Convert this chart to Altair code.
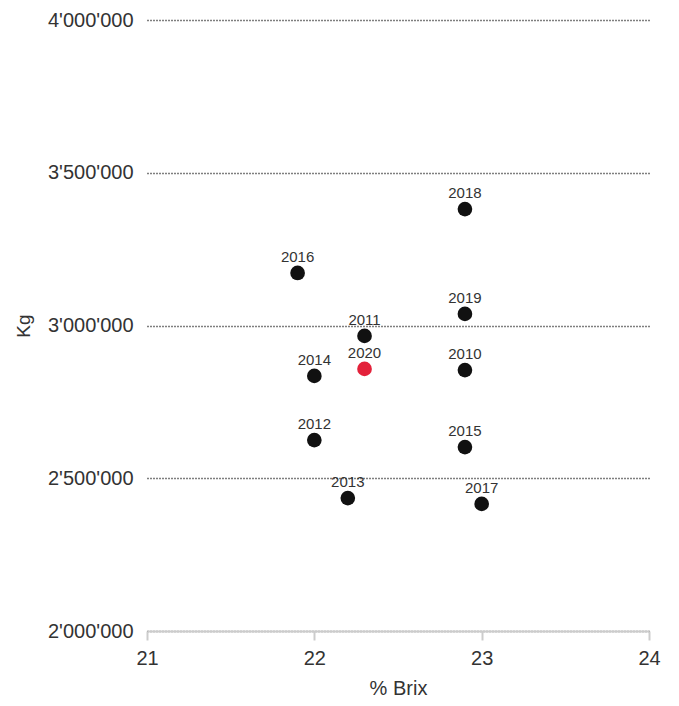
import altair as alt
import pandas as pd

years = ["2010", "2011", "2012", "2013", "2014", "2015", "2016", "2017", "2018", "2019", "2020"]
brix = [22.9, 22.3, 22.0, 22.2, 22.0, 22.9, 21.9, 23.0, 22.9, 22.9, 22.3]
kg = [2854000, 2966000, 2625000, 2435000, 2835000, 2602000, 3172000, 2416000, 3381000, 3038000, 2858000]

df = pd.DataFrame({"year": years, "brix": brix, "kg": kg})
df["hl"] = df["year"].eq("2020")

FONT = "Liberation Sans"

x = alt.X("brix:Q", title="% Brix",
          scale=alt.Scale(domain=[21, 24], nice=False, zero=False),
          axis=alt.Axis(values=[21, 22, 23, 24], format="d", grid=False, domainColor="#cccccc", domainWidth=2,
                        tickColor="#cccccc", tickWidth=2, tickSize=9, labelFontSize=20, labelFlush=False,
                        labelColor="#333333", labelPadding=8, titleFontSize=20, titleColor="#333333",
                        titleFontWeight="normal", titlePadding=10, labelFont=FONT,
                        titleFont=FONT))
y = alt.Y("kg:Q", title="Kg",
          scale=alt.Scale(domain=[2000000, 4000000], nice=False, zero=False),
          axis=alt.Axis(values=[2000000, 2500000, 3000000, 3500000, 4000000],
                        labelExpr="replace(format(datum.value, ','), /,/g, \"'\")",
                        domain=False, ticks=False, grid=True, gridColor="#000000", gridDash=[1, 2],
                        gridWidth=1.3, labelFontSize=20, labelColor="#333333", labelPadding=14,
                        titleFontSize=19, titleColor="#333333", titleFontWeight="normal",
                        titlePadding=14, labelFont=FONT, titleFont=FONT))

pts = alt.Chart(df).mark_circle(size=215, opacity=1).encode(
    x=x, y=y,
    color=alt.Color("hl:N", scale=alt.Scale(domain=[False, True], range=["#111111", "#e3213a"]), legend=None),
)
labels = alt.Chart(df).mark_text(dy=-11, baseline="alphabetic", fontSize=15, color="#333333", font=FONT).encode(
    x="brix:Q", y="kg:Q", text="year:N"
)

chart = (pts + labels).properties(
    width=502, height=611,
    autosize=alt.AutoSizeParams(type="none"),
    padding={"left": 139, "top": 12, "right": 22, "bottom": 67},
).configure_view(stroke=None)

chart.save("out.html", embed_options={"renderer": "svg", "actions": False})
